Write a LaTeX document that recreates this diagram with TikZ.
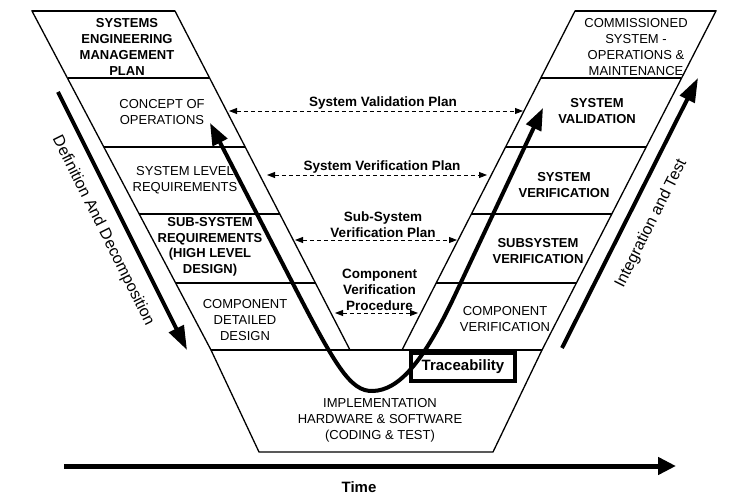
\documentclass[tikz,border=0pt]{standalone}
\usepackage{fontspec}
\setmainfont{Liberation Sans}
\usetikzlibrary{arrows.meta}

\begin{document}
\begin{tikzpicture}[x=1pt,y=-1pt,
		box/.style={align=center,font=\fontsize{13}{16}\selectfont},
		boxb/.style={align=center,font=\fontsize{13}{16}\selectfont\bfseries},
		edge/.style={line width=1.3pt},
		divider/.style={line width=2.1pt},
		plan/.style={line width=0.9pt,dash pattern=on 4pt off 3pt,{Triangle[length=8pt,width=6pt]}-{Triangle[length=8pt,width=6pt]}},
		plantext/.style={above,align=center,inner sep=1.5pt,font=\fontsize{13.5}{16}\selectfont\bfseries},
		bigarrow/.style={line width=4pt,-{Triangle[length=24pt,width=16pt]}},
		side/.style={font=\fontsize{16}{18}\selectfont}]
	\useasboundingbox (0,0) rectangle (750,500);
	
	% the two arms and the bottom of the V
	\draw[edge] (32,11) -- (175,11) -- (350,350) -- (211,350) -- cycle;
	\draw[edge] (575,11) -- (716,11) -- (542,350) -- (402,350) -- cycle;
	\draw[edge] (211,350) -- (542,350) -- (493,452) -- (259,452) -- cycle;
	\draw[divider]
	(32,11) -- (175,11)
	(575,11) -- (716,11)
	(211,350) -- (542,350)
	(68,78) -- (210,78)
	(104,147) -- (245,147)
	(139,214) -- (280,214)
	(176,283) -- (315,283)
	(541,78) -- (681,78)
	(506,147) -- (646,147)
	(472,214) -- (612,214)
	(436,283) -- (577,283);
	
	% left arm
	\node[boxb] (semp) at (127,47) {SYSTEMS\\ENGINEERING\\MANAGEMENT\\PLAN};
	\node[box] (conops) at (162,112) {CONCEPT OF\\OPERATIONS};
	\node[box] (sysreq) at (185,180) {SYSTEM LEVEL\\REQUIREMENTS};
	\node[boxb,font=\fontsize{13}{15.5}\selectfont\bfseries] (subreq) at (210,247) {SUB-SYSTEM\\REQUIREMENTS\\(HIGH LEVEL\\DESIGN)};
	\node[box] (compdes) at (245,320) {COMPONENT\\DETAILED\\DESIGN};
	
	% bottom
	\node[box] (impl) at (380,420) {IMPLEMENTATION\\HARDWARE \& SOFTWARE\\(CODING \& TEST)};
	
	% right arm
	\node[box] (comm) at (636,47) {COMMISSIONED\\SYSTEM -\\OPERATIONS \&\\MAINTENANCE};
	\node[boxb] (sysval) at (597,111) {SYSTEM\\VALIDATION};
	\node[boxb] (sysver) at (564,185) {SYSTEM\\VERIFICATION};
	\node[boxb] (subver) at (538,251) {SUBSYSTEM\\VERIFICATION};
	\node[box] (compver) at (505,319) {COMPONENT\\VERIFICATION};
	
	% plans across the V
	\coordinate (valL) at (229,111);  \coordinate (valR) at (523,111);
	\coordinate (verL) at (267,175);  \coordinate (verR) at (487,175);
	\coordinate (subL) at (295,240);  \coordinate (subR) at (457,240);
	\coordinate (compL) at (335,313); \coordinate (compR) at (418,313);
	\draw[plan] (valL) -- node[plantext,xshift=7pt] (valplan) {System Validation Plan} (valR);
	\draw[plan] (verL) -- node[plantext,xshift=5pt] (verplan) {System Verification Plan} (verR);
	\draw[plan] (subL) -- node[plantext,xshift=7pt] (subplan) {Sub-System\\Verification Plan} (subR);
	\draw[plan] (compL) -- node[plantext,xshift=3pt] (compplan) {Component\\Verification\\Procedure} (compR);
	
	% the V itself
	\coordinate (cstart) at (210,123);
	\coordinate (cend) at (543,108);
	\draw[line width=4pt,{Triangle[length=22pt,width=16pt]}-{Triangle[length=22pt,width=16pt]}]
	(cstart) -- (290,278) .. controls (335,365) and (350,392) .. (373,391)
	.. controls (398,390) and (422,365) .. (455,295) -- (cend);
	
	\node[draw,line width=4pt,minimum width=104pt,minimum height=28pt,font=\fontsize{15}{18}\selectfont\bfseries] (trace) at (463,367) {Traceability};
	
	% side arrows and time
	\coordinate (defA) at (58,92);   \coordinate (defB) at (187,350);
	\coordinate (intA) at (562,348); \coordinate (intB) at (698,78);
	\coordinate (timeA) at (64,466); \coordinate (timeB) at (676,466);
	\draw[bigarrow] (defA) -- node[midway,sloped,below=9pt,side] (defdec) {Definition And Decomposition} (defB);
	\draw[bigarrow] (intA) -- node[midway,sloped,below=11pt,side] (inttest) {Integration and Test} (intB);
	\draw[line width=5pt,-{Triangle[length=18pt,width=17pt]}] (timeA) -- (timeB);
	\node[font=\fontsize{15}{18}\selectfont\bfseries] (time) at (359,487) {Time};
\end{tikzpicture}
\end{document}
